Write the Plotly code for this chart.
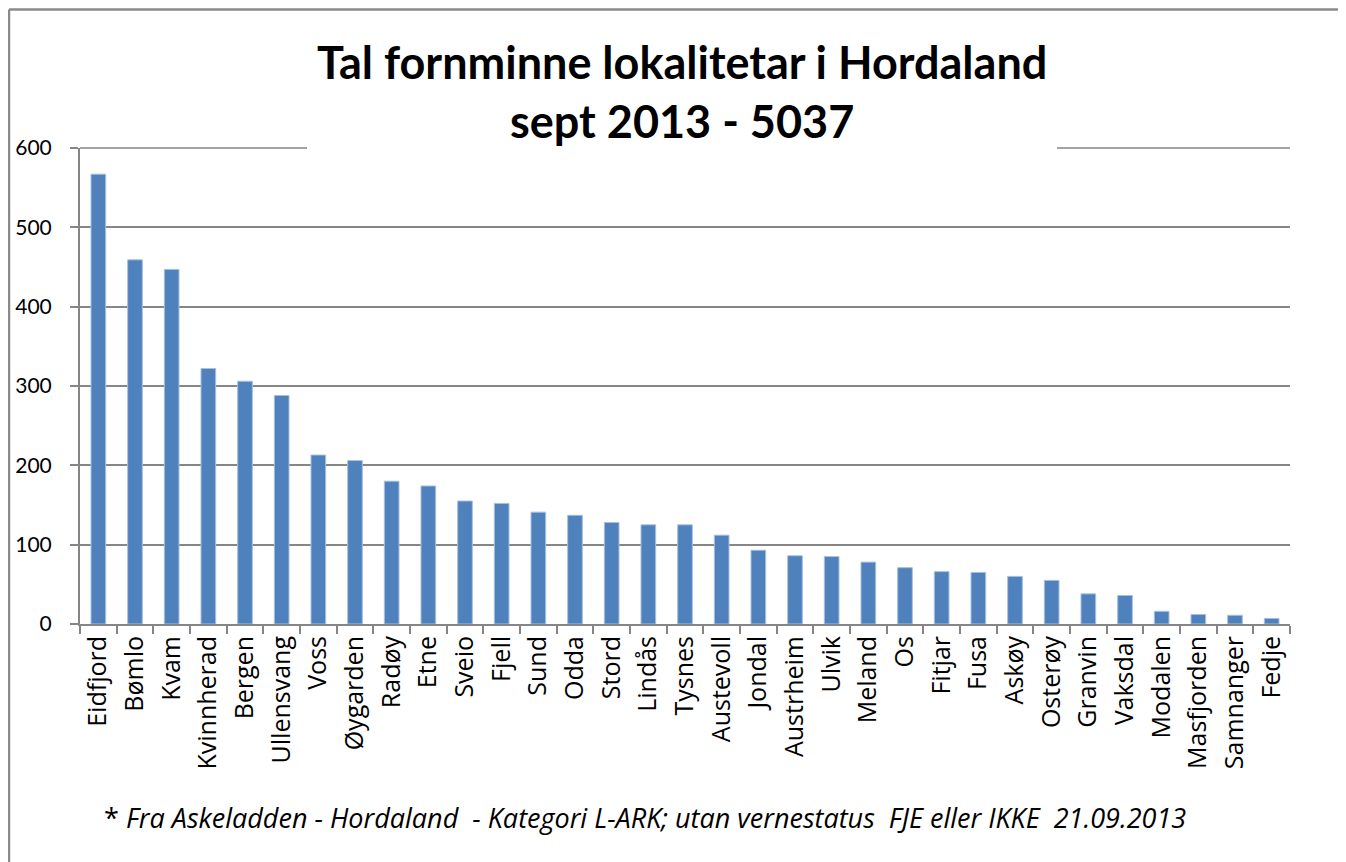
import plotly.graph_objects as go

categories = ["Eidfjord", "Bømlo", "Kvam", "Kvinnherad", "Bergen", "Ullensvang", "Voss",
              "Øygarden", "Radøy", "Etne", "Sveio", "Fjell", "Sund", "Odda", "Stord",
              "Lindås", "Tysnes", "Austevoll", "Jondal", "Austrheim", "Ulvik", "Meland",
              "Os", "Fitjar", "Fusa", "Askøy", "Osterøy", "Granvin", "Vaksdal", "Modalen",
              "Masfjorden", "Samnanger", "Fedje"]
values = [567, 459, 447, 322, 306, 288, 213, 206, 180, 174, 155, 152, 141, 137, 128,
          125, 125, 112, 93, 86, 85, 78, 71, 66, 65, 60, 55, 38, 36, 16, 12, 11, 7]
y_ticks = [0, 100, 200, 300, 400, 500, 600]

title_lines = ["Tal fornminne lokalitetar i Hordaland", "sept 2013 - 5037"]
footnote = "* <i>Fra Askeladden - Hordaland \u00a0- Kategori L-ARK; utan vernestatus \u00a0FJE eller IKKE \u00a021.09.2013</i>"

# page has an 8px body margin; work in page coords and subtract it
OFF = 8
W, H = 1346 - OFF, 862 - OFF
PX0, PX1, PY0, PY1 = 80, 1290, 148, 624  # plot area in page pixels
L, T = PX0 - OFF, PY0 - OFF
R, B = W - (PX1 - OFF), H - (PY1 - OFF)
PW, PH = PX1 - PX0, PY1 - PY0

def px(x):
    return (x - PX0) / PW

def py(y):
    return (PY1 - y) / PH

FONT = "Lato, 'Open Sans', sans-serif"
FONT2 = "'Open Sans', sans-serif"
GRID = "#868686"

fig = go.Figure(go.Bar(
    x=categories, y=values,
    marker=dict(color="#4F81BD", line=dict(color="#A7C0DE", width=1)),
))

fig.update_layout(
    width=W, height=H,
    margin=dict(l=L, r=R, t=T, b=B, autoexpand=False),
    paper_bgcolor="white", plot_bgcolor="white",
    bargap=0.6, showlegend=False,
    font=dict(family=FONT, color="black", size=20),
    xaxis=dict(
        type="category", tickangle=-90, showgrid=False,
        showline=True, linecolor=GRID, linewidth=2,
        ticks="outside", tickson="boundaries", ticklen=8, tickcolor=GRID, tickwidth=2,
        tickfont=dict(size=25, family=FONT2),
        range=[-0.5, len(categories) - 0.5],
    ),
    yaxis=dict(
        range=[0, 600], tickvals=y_ticks,
        showgrid=True, gridcolor=GRID, gridwidth=1.5,
        showline=True, linecolor=GRID, linewidth=2,
        ticks="outside", ticklen=8, tickcolor=GRID, tickwidth=2,
        ticklabelstandoff=14, zeroline=False,
        tickfont=dict(size=21, family=FONT),
    ),
    shapes=[
        dict(type="line", xref="paper", yref="paper", x0=0, x1=1, y0=1, y1=1,
             line=dict(color=GRID, width=1.5), layer="below"),
        dict(type="rect", xref="paper", yref="paper", x0=px(307), x1=px(1057),
             y0=py(156), y1=py(140), fillcolor="white", line=dict(width=0), layer="above"),
        dict(type="line", xref="paper", yref="paper", x0=px(9), x1=px(1346),
             y0=py(9.5), y1=py(9.5), line=dict(color="#8a8a8a", width=2.5)),
        dict(type="line", xref="paper", yref="paper", x0=px(9), x1=px(9),
             y0=py(9.5), y1=py(862), line=dict(color="#8a8a8a", width=2.5)),
    ],
    annotations=[
        dict(text="<br>".join("<b>" + s + "</b>" for s in title_lines),
             xref="paper", yref="paper", x=px(682), y=py(92), xanchor="center", yanchor="middle",
             showarrow=False, font=dict(size=45, family=FONT, color="black")),
        dict(text=footnote, xref="paper", yref="paper", x=px(645), y=py(817),
             xanchor="center", yanchor="middle", showarrow=False,
             font=dict(size=27, family=FONT2, color="black")),
    ],
)

fig.write_html("out.html", config={"displayModeBar": False})
